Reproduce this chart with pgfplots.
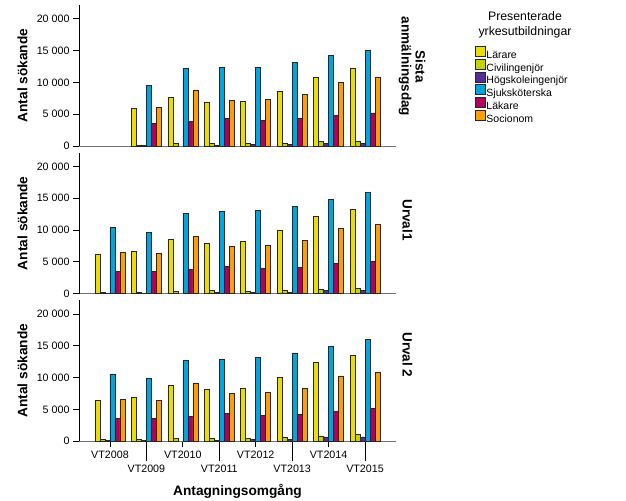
\documentclass[border=0pt]{standalone}
\usepackage{fontspec}
\setmainfont{Liberation Sans}
\usepackage{pgfplots}
\pgfplotsset{compat=1.18}
\usepackage{pgfplotstable}

\definecolor{clar}{RGB}{236,221,0}
\definecolor{cciv}{RGB}{196,212,0}
\definecolor{chog}{RGB}{88,44,150}
\definecolor{csju}{RGB}{0,164,222}
\definecolor{clak}{RGB}{178,0,94}
\definecolor{csoc}{RGB}{255,158,0}

% Sista anmälningsdag
\pgfplotstableread{
x L C H S K O
1 5930 150 80 9550 3570 6090
2 7660 420 nan 12180 3830 8820
3 6930 420 150 12340 4300 7140
4 7030 420 260 12340 4000 7300
5 8600 430 250 13100 4300 8140
6 10800 680 420 14200 4830 9970
7 12230 790 420 15000 5200 10800
}\tabA
% Urval1
\pgfplotstableread{
x L C H S K O
0 6130 260 100 10470 3500 6440
1 6650 200 100 9630 3560 6280
2 8480 370 nan 12620 3870 9060
3 7900 470 150 12880 4290 7430
4 8170 310 260 13090 4030 7640
5 9900 470 210 13770 4190 8430
6 12100 730 520 14820 4760 10260
7 13250 890 470 15920 5130 10890
}\tabB
% Urval 2
\pgfplotstableread{
x L C H S K O
0 6420 260 100 10600 3550 6580
1 6950 260 150 9820 3600 6470
2 8720 470 nan 12690 3920 9190
3 8150 520 150 12900 4390 7470
4 8400 470 310 13160 4070 7680
5 10080 630 260 13890 4230 8360
6 12380 840 680 14880 4750 10290
7 13470 1040 680 15980 5220 10910
}\tabC

\pgfplotsset{
 panel/.style={
  scale only axis, width=317bp, height=141bp, anchor=south west,
  xmin=-0.85, xmax=7.85, ymin=0, ymax=22150,
  axis lines*=left,
  ybar=0pt, bar width=5bp,
  tick align=outside, major tick length=6bp,
  scaled y ticks=false,
  ytick={0,5000,10000,15000,20000},
  yticklabels={0,5 000,10 000,15 000,20 000},
  xtick=\empty,
  ticklabel style={font=\fontsize{10.7bp}{12.8bp}\selectfont},
  ylabel={Antal sökande},
  ylabel style={at={(axis description cs:-0.178,0.5)}, anchor=center, font=\bfseries\fontsize{13.7bp}{16bp}\selectfont},
  x axis line style={draw=black!55, line width=0.8bp},
  y axis line style={draw=black, line width=0.8bp},
  tick style={draw=black, line width=0.8bp},
  clip=false,
 },
 barL/.style={fill=clar, draw=black!85, line width=0.6bp},
 barC/.style={fill=cciv, draw=black!85, line width=0.6bp},
 barH/.style={fill=chog, draw=black!85, line width=0.6bp},
 barS/.style={fill=csju, draw=black!85, line width=0.6bp},
 barK/.style={fill=clak, draw=black!85, line width=0.6bp},
 barO/.style={fill=csoc, draw=black!85, line width=0.6bp},
}

\begin{document}
\begin{tikzpicture}
\path[use as bounding box] (0bp,0bp) rectangle (626bp,-501bp);

\begin{axis}[panel, at={(79bp,-146bp)},
  legend style={at={(rel axis cs:1.2492,0.709)}, anchor=north west, draw=none, fill=none,
    inner sep=0pt, font=\fontsize{10.5bp}{12bp}\selectfont, row sep=-1.5bp,
    nodes={inner sep=0.5bp}},
  legend cell align=left,
  legend image code/.code={\draw[#1, line width=0.8bp] (0bp,-1.2bp) rectangle (10bp,8.8bp);},
]
\addplot[barL] table[x=x,y=L]{\tabA};
\addplot[barC] table[x=x,y=C]{\tabA};
\addplot[barH] table[x=x,y=H]{\tabA};
\addplot[barS] table[x=x,y=S]{\tabA};
\addplot[barK] table[x=x,y=K]{\tabA};
\addplot[barO] table[x=x,y=O]{\tabA};
\legend{Lärare,Civilingenjör,Högskoleingenjör,Sjuksköterska,Läkare,Socionom}
\end{axis}

\begin{axis}[panel, at={(79bp,-293.7bp)}]
\addplot[barL] table[x=x,y=L]{\tabB};
\addplot[barC] table[x=x,y=C]{\tabB};
\addplot[barH] table[x=x,y=H]{\tabB};
\addplot[barS] table[x=x,y=S]{\tabB};
\addplot[barK] table[x=x,y=K]{\tabB};
\addplot[barO] table[x=x,y=O]{\tabB};
\end{axis}

\begin{axis}[panel, at={(79bp,-441.3bp)},
  xtick={0,2,4,6}, xticklabels={VT2008,VT2010,VT2012,VT2014},
  extra x ticks={1,3,5,7}, extra x tick labels={VT2009,VT2011,VT2013,VT2015},
  extra x tick style={major tick length=20bp},
  xlabel={Antagningsomgång},
  xlabel style={at={(axis description cs:0.5,-0.352)}, anchor=center, font=\bfseries\fontsize{13.7bp}{16bp}\selectfont},
]
\addplot[barL] table[x=x,y=L]{\tabC};
\addplot[barC] table[x=x,y=C]{\tabC};
\addplot[barH] table[x=x,y=H]{\tabC};
\addplot[barS] table[x=x,y=S]{\tabC};
\addplot[barK] table[x=x,y=K]{\tabC};
\addplot[barO] table[x=x,y=O]{\tabC};
\end{axis}

\node[rotate=-90, align=center, font=\bfseries\fontsize{13.5bp}{14bp}\selectfont] at (412bp,-66.5bp) {Sista\\anmälningsdag};
\node[rotate=-90, font=\bfseries\fontsize{13.5bp}{14bp}\selectfont] at (407.5bp,-220bp) {Urval1};
\node[rotate=-90, font=\bfseries\fontsize{13.5bp}{14bp}\selectfont] at (407.5bp,-355bp) {Urval 2};
\node[align=center, font=\fontsize{12.3bp}{15bp}\selectfont] at (525bp,-24.5bp) {Presenterade\\yrkesutbildningar};
\end{tikzpicture}
\end{document}
